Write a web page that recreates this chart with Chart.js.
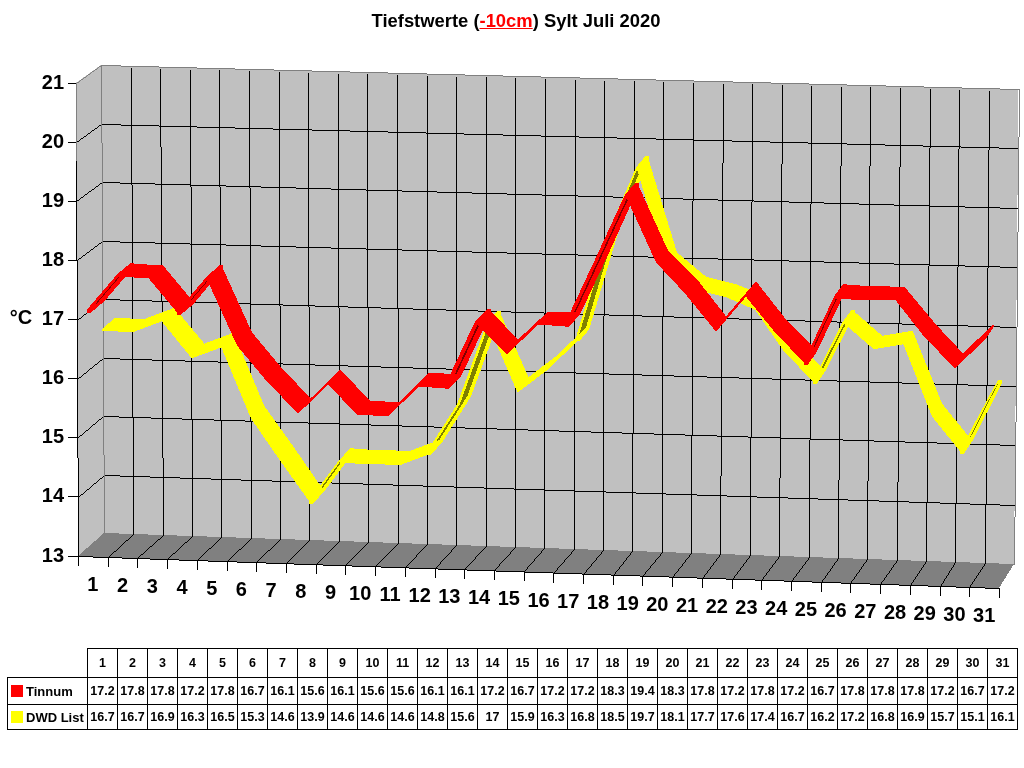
<!DOCTYPE html>
<html>
<head>
<meta charset="utf-8">
<title>Tiefstwerte Sylt Juli 2020</title>
<script src="https://cdn.jsdelivr.net/npm/chart.js@4"></script>
<style>
  html, body { margin: 0; padding: 0; background: #fff; }
  body { width: 1024px; height: 768px; position: relative; overflow: hidden; font-family: "Liberation Sans", Arial, sans-serif; }
  #chart { position: absolute; left: 0; top: 0; }
  #title { position: absolute; left: 0; top: 10px; width: 1032px; text-align: center; font-size: 18.4px; line-height: 21px; font-weight: bold; color: #000; }
  #title span { color: #f00; text-decoration: underline; }
  #dataTable { position: absolute; left: 7px; top: 648px; border-collapse: collapse; table-layout: fixed; width: 1011px; font-size: 12.5px; font-weight: bold; color: #000; }
  #dataTable td { border: 1px solid #000; padding: 0; text-align: center; white-space: nowrap; overflow: visible; }
  #dataTable td.blank { border: none; border-bottom: 1px solid #000; border-right: 1px solid #000; }
  #dataTable td.name { text-align: left; font-size: 13px; }
  #dataTable i { display: inline-block; width: 12px; height: 12px; margin: 0 3px 0 3px; vertical-align: -1px; }
</style>
</head>
<body>
<canvas id="chart" width="1024" height="768"></canvas>
<div id="title">Tiefstwerte (<span>-10cm</span>) Sylt Juli 2020</div>
<table id="dataTable"></table>

<script>
const days = ['1','2','3','4','5','6','7','8','9','10','11','12','13','14','15','16','17','18','19','20','21','22','23','24','25','26','27','28','29','30','31'];
const tinnum = [17.2,17.8,17.8,17.2,17.8,16.7,16.1,15.6,16.1,15.6,15.6,16.1,16.1,17.2,16.7,17.2,17.2,18.3,19.4,18.3,17.8,17.2,17.8,17.2,16.7,17.8,17.8,17.8,17.2,16.7,17.2];
const dwdList = [16.7,16.7,16.9,16.3,16.5,15.3,14.6,13.9,14.6,14.6,14.6,14.8,15.6,17,15.9,16.3,16.8,18.5,19.7,18.1,17.7,17.6,17.4,16.7,16.2,17.2,16.8,16.9,15.7,15.1,16.1];
const seriesNames = ['Tinnum', 'DWD List'];
const yMin = 13;
const yMax = 21;

// corners of the 3d box, front plane and back wall
const box = {
  fbl: [78, 556], fbr: [999, 588], ftl: [75.7, 83], ftr: [1003, 108],
  bbl: [104, 533], bbr: [1014, 564], btl: [101, 65], btr: [1018.5, 89]
};
// depth range of each ribbon inside the box, x and y a bit different
// core = how much of the underside stays dark
const ribbons = [
  { xz: [-0.12, 0.42], yz: [-0.1, 0.47], core: 0.3, color: '#ff0000', dark: '#800000' },
  { xz: [0.42, 0.9], yz: [0.38, 0.92], core: 0.75, color: '#ffff00', dark: '#808000' }
];

// u along the days, v down the value axis, z into the picture
function project(u, v, z, zy) {
  function mix(a, b, t) { return a + (b - a) * t; }
  function corner(k) {
    const front = mix(mix(box.ftl[k], box.ftr[k], u), mix(box.fbl[k], box.fbr[k], u), v);
    const back = mix(mix(box.btl[k], box.btr[k], u), mix(box.bbl[k], box.bbr[k], u), v);
    return mix(front, back, k === 1 && zy !== undefined ? zy : z);
  }
  return [corner(0), corner(1)];
}

// plain pixel line, the original has no smoothing
function pixelLine(ctx, a, b, color, size) {
  size = size || 1;
  const off = (1 - size) / 2;
  let x0 = Math.round(a[0] + off), y0 = Math.round(a[1] + off);
  const x1 = Math.round(b[0] + off), y1 = Math.round(b[1] + off);
  const dx = Math.abs(x1 - x0), dy = -Math.abs(y1 - y0);
  const sx = x0 < x1 ? 1 : -1, sy = y0 < y1 ? 1 : -1;
  let err = dx + dy;
  ctx.fillStyle = color;
  while (true) {
    ctx.fillRect(x0, y0, size, size);
    if (x0 === x1 && y0 === y1) break;
    const e2 = 2 * err;
    if (e2 >= dy) { err += dy; x0 += sx; }
    if (e2 <= dx) { err += dx; y0 += sy; }
  }
}

function pixelPolygon(ctx, pts, color) {
  const ys = pts.map(p => p[1]);
  const top = Math.floor(Math.min(...ys));
  const bottom = Math.ceil(Math.max(...ys));
  ctx.fillStyle = color;
  for (let y = top; y <= bottom; y++) {
    const row = y + 0.5;
    const hits = [];
    pts.forEach((p, i) => {
      const q = pts[(i + 1) % pts.length];
      if ((p[1] <= row) !== (q[1] <= row)) {
        hits.push(p[0] + (row - p[1]) / (q[1] - p[1]) * (q[0] - p[0]));
      }
    });
    hits.sort((a, b) => a - b);
    for (let i = 0; i + 1 < hits.length; i += 2) {
      const x0 = Math.round(hits[i]), x1 = Math.round(hits[i + 1]);
      if (x1 > x0) ctx.fillRect(x0, y, x1 - x0, 1);
    }
  }
}

function signedArea(pts) {
  let area = 0;
  pts.forEach((p, i) => {
    const q = pts[(i + 1) % pts.length];
    area += p[0] * q[1] - q[0] * p[1];
  });
  return area / 2;
}

// narrow a ribbon quad across its depth, keeps the middle part
function narrowQuad(q, keep) {
  const t = (1 - keep) / 2;
  function lerp(a, b) { return [a[0] + (b[0] - a[0]) * t, a[1] + (b[1] - a[1]) * t]; }
  return [lerp(q[0], q[1]), lerp(q[1], q[0]), lerp(q[2], q[3]), lerp(q[3], q[2])];
}

const boxPlugin = {
  id: 'box3d',
  // WALLS AND FLOOR
  beforeDatasetsDraw(chart) {
    const ctx = chart.ctx;
    const yScale = chart.scales.y;
    const area = chart.chartArea;
    const n = days.length;
    const wall = '#c0c0c0', edge = '#808080';

    pixelPolygon(ctx, [box.ftl, box.btl, box.bbl, box.fbl], wall);
    pixelPolygon(ctx, [box.btl, box.btr, box.bbr, box.bbl], wall);
    pixelPolygon(ctx, [box.fbl, box.bbl, box.bbr, box.fbr], edge);

    for (let i = 1; i < n; i++) {
      pixelLine(ctx, project(i / n, 0.005, 1), project(i / n, 1, 1), '#000');
      pixelLine(ctx, project(i / n, 1, 0), project(i / n, 1, 1), '#000');
    }
    for (let t = yMin + 1; t < yMax; t++) {
      const v = (yScale.getPixelForValue(t) - area.top) / area.height;
      pixelLine(ctx, project(0, v, 0), project(0, v, 1), '#000');
      pixelLine(ctx, project(0, v, 1), project(1, v, 1), '#000');
    }

    pixelLine(ctx, box.ftl, box.btl, edge);
    pixelLine(ctx, box.btl, box.btr, edge);
    pixelLine(ctx, box.btr, box.bbr, edge);
    pixelLine(ctx, box.btl, box.bbl, edge);
    const upper = (yScale.getPixelForValue(20) - area.top + 19) / area.height;
    pixelLine(ctx, box.ftl, project(0, upper, 0), edge);
    pixelLine(ctx, project(0, upper, 0), box.fbl, '#000');
    pixelLine(ctx, box.fbl, box.fbr, '#000');

    for (let i = 0; i <= n; i++) {
      const p = project(i / n, 1, 0);
      pixelLine(ctx, p, [p[0], p[1] + 9], '#000');
    }
  },
  // the line datasets are drawn as ribbons, points come from the chart's scales
  beforeDatasetDraw(chart, args) {
    const ctx = chart.ctx;
    const area = chart.chartArea;
    const style = ribbons[args.index];
    const pts = args.meta.data;
    const under = [], over = [];
    for (let i = 0; i + 1 < pts.length; i++) {
      const ua = (pts[i].x - area.left) / area.width, va = (pts[i].y - area.top) / area.height;
      const ub = (pts[i + 1].x - area.left) / area.width, vb = (pts[i + 1].y - area.top) / area.height;
      const quad = [
        project(ua, va, style.xz[0], style.yz[0]), project(ua, va, style.xz[1], style.yz[1]),
        project(ub, vb, style.xz[1], style.yz[1]), project(ub, vb, style.xz[0], style.yz[0])
      ];
      (signedArea(quad) > 0 ? over : under).push(quad);
    }
    // underside seen on steep rises: dark core with a bright rim
    under.forEach(quad => {
      quad.forEach((p, i) => pixelLine(ctx, p, quad[(i + 1) % 4], style.color, 4));
      pixelPolygon(ctx, quad, style.color);
    });
    under.forEach(quad => pixelPolygon(ctx, narrowQuad(quad, style.core), style.dark));
    over.forEach(quad => {
      quad.forEach((p, i) => pixelLine(ctx, p, quad[(i + 1) % 4], style.color, 2));
      pixelPolygon(ctx, quad, style.color);
    });
    return false;
  },
  // x labels follow the slanted front edge
  afterDraw(chart) {
    const ctx = chart.ctx;
    const xScale = chart.scales.x;
    const area = chart.chartArea;
    ctx.save();
    ctx.fillStyle = '#000';
    ctx.font = 'bold 20px "Liberation Sans", Arial, sans-serif';
    ctx.textAlign = 'center';
    ctx.textBaseline = 'middle';
    days.forEach((d, i) => {
      const p = project((xScale.getPixelForValue(i) - area.left) / area.width, 1, 0);
      ctx.fillText(xScale.getLabelForValue(i), p[0], p[1] + 29);
    });
    ctx.fillText('°C', 21, 318);
    ctx.restore();
  }
};

new Chart(document.getElementById('chart'), {
  type: 'line',
  data: {
    labels: days,
    datasets: [
      { label: seriesNames[0], data: tinnum, borderColor: '#ff0000', backgroundColor: '#ff0000', pointRadius: 0 },
      { label: seriesNames[1], data: dwdList, borderColor: '#ffff00', backgroundColor: '#ffff00', pointRadius: 0 }
    ]
  },
  options: {
    responsive: false,
    animation: false,
    layout: { padding: { left: 0, right: 25, top: 83, bottom: 212 } },
    plugins: { legend: { display: false }, tooltip: { enabled: false } },
    scales: {
      x: { type: 'category', offset: true, display: false },
      y: {
        min: yMin,
        max: yMax,
        afterFit(scale) { scale.width = 78; },
        border: { display: false },
        grid: { drawOnChartArea: false, drawTicks: true, tickLength: 10, color: '#000' },
        ticks: { stepSize: 1, padding: 4, color: '#000', font: { family: '"Liberation Sans", Arial, sans-serif', size: 20, weight: 'bold' } }
      }
    }
  },
  plugins: [boxPlugin]
});

// DATA TABLE
const table = document.getElementById('dataTable');
const heights = [29, 27, 25];
const cols = document.createElement('colgroup');
cols.innerHTML = '<col style="width:80px">' + days.map(() => '<col style="width:30px">').join('');
table.appendChild(cols);
const head = table.insertRow();
head.style.height = heights[0] + 'px';
head.insertCell().className = 'blank';
days.forEach(d => { head.insertCell().textContent = d; });
[tinnum, dwdList].forEach((values, s) => {
  const row = table.insertRow();
  row.style.height = heights[s + 1] + 'px';
  const nameCell = row.insertCell();
  nameCell.className = 'name';
  const swatch = document.createElement('i');
  swatch.style.background = ribbons[s].color;
  nameCell.appendChild(swatch);
  nameCell.appendChild(document.createTextNode(seriesNames[s]));
  values.forEach(v => { row.insertCell().textContent = v; });
});
</script>
</body>
</html>
